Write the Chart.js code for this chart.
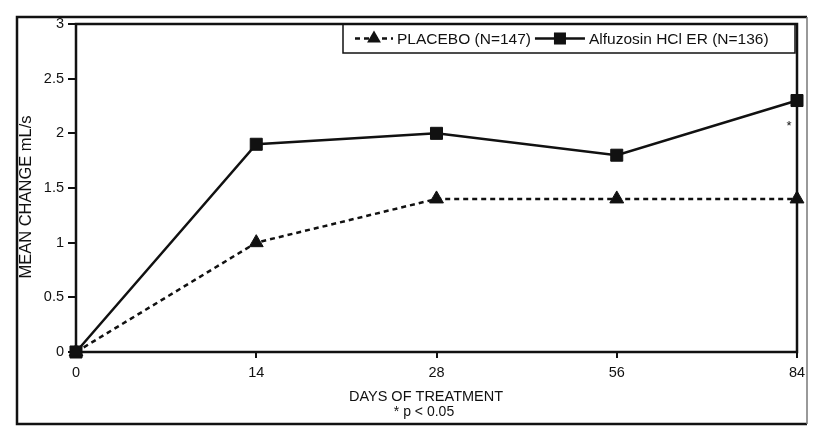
<!DOCTYPE html>
<html>
<head>
<meta charset="utf-8">
<script src="https://cdn.jsdelivr.net/npm/chart.js@4.4.1/dist/chart.umd.min.js"></script>
<style>
  html, body { margin: 0; padding: 0; background: #fff; }
  canvas { display: block; }
</style>
</head>
<body>
<canvas id="flowChart" width="817" height="427"></canvas>
<script>
// DATA
const days = ['0', '14', '28', '56', '84'];
const placebo = [0, 1.0, 1.4, 1.4, 1.4];
const alfuzosin = [0, 1.9, 2.0, 1.8, 2.3];
const yTicks = [0, 0.5, 1, 1.5, 2, 2.5, 3];
const seriesLabels = ['PLACEBO (N=147)', 'Alfuzosin HCl ER (N=136)'];
const significantDay = '84'; // point flagged with * (p < 0.05)

const FONT = '"Liberation Sans", Arial, sans-serif';
const INK = '#111';

// Outer frame, plot box, legend, asterisk and axis captions
const figurePlugin = {
  id: 'figure',
  beforeDraw(chart) {
    const ctx = chart.ctx;
    ctx.save();
    ctx.fillStyle = '#fff';
    ctx.fillRect(0, 0, chart.width, chart.height);
    ctx.strokeStyle = INK;
    ctx.lineWidth = 2.5;
    ctx.beginPath();
    ctx.moveTo(807, 17);
    ctx.lineTo(17, 17);
    ctx.lineTo(17, 424);
    ctx.lineTo(807, 424);
    ctx.stroke();
    // right edge of the frame is lighter in the original
    ctx.strokeStyle = '#777';
    ctx.lineWidth = 1.5;
    ctx.beginPath();
    ctx.moveTo(807, 17);
    ctx.lineTo(807, 424);
    ctx.stroke();
    ctx.restore();
  },
  beforeDatasetsDraw(chart) {
    const { ctx, chartArea: a } = chart;
    ctx.save();
    ctx.strokeStyle = INK;
    ctx.lineWidth = 2.5;
    ctx.strokeRect(a.left, a.top, a.right - a.left, a.bottom - a.top);
    ctx.restore();
  },
  afterDraw(chart) {
    const { ctx, chartArea: a, scales } = chart;
    const drawPoint = Chart.helpers.drawPoint;
    ctx.save();

    // legend box
    const boxLeft = a.left + 267, boxTop = a.top, boxBottom = a.top + 29, boxRight = a.right - 2;
    ctx.strokeStyle = INK;
    ctx.lineWidth = 1.5;
    ctx.strokeRect(boxLeft, boxTop, boxRight - boxLeft, boxBottom - boxTop);

    ctx.font = '15.5px ' + FONT;
    ctx.textBaseline = 'middle';
    ctx.textAlign = 'left';
    ctx.fillStyle = INK;
    const cy = (boxTop + boxBottom) / 2;
    const sampleW = [38, 50];
    let x = boxLeft + 12;
    chart.data.datasets.forEach((ds, i) => {
      ctx.save();
      ctx.strokeStyle = ds.borderColor;
      ctx.lineWidth = ds.borderWidth;
      ctx.setLineDash(ds.borderDash || []);
      ctx.beginPath();
      ctx.moveTo(x, cy);
      ctx.lineTo(x + sampleW[i], cy);
      ctx.stroke();
      ctx.setLineDash([]);
      ctx.fillStyle = ds.pointBackgroundColor;
      drawPoint(ctx, { pointStyle: ds.pointStyle, radius: ds.pointRadius, borderWidth: 0, rotation: 0 }, x + sampleW[i] / 2, cy);
      ctx.restore();
      x += sampleW[i] + 4;
      ctx.fillText(seriesLabels[i], x, cy + 1);
      x += ctx.measureText(seriesLabels[i]).width + 4;
    });

    // significance asterisk under the day-84 square
    const px = scales.x.getPixelForValue(days.indexOf(significantDay));
    const py = scales.y.getPixelForValue(alfuzosin[days.indexOf(significantDay)]);
    ctx.font = '13px ' + FONT;
    ctx.textAlign = 'center';
    ctx.textBaseline = 'top';
    ctx.fillText('*', px - 8, py + 19);

    // y axis caption
    ctx.save();
    ctx.translate(26, 197);
    ctx.rotate(-Math.PI / 2);
    ctx.font = '16.5px ' + FONT;
    ctx.textBaseline = 'middle';
    ctx.fillText('MEAN CHANGE mL/s', 0, 0);
    ctx.restore();

    // x axis caption and footnote
    ctx.font = '14.5px ' + FONT;
    ctx.textBaseline = 'middle';
    ctx.fillText('DAYS OF TREATMENT', 426, 397);
    ctx.font = '14px ' + FONT;
    ctx.fillText('* p < 0.05', 424, 412);
    ctx.restore();
  }
};

new Chart(document.getElementById('flowChart').getContext('2d'), {
  type: 'line',
  data: {
    labels: days,
    datasets: [
      {
        label: seriesLabels[0],
        data: placebo,
        borderColor: INK,
        borderWidth: 2.5,
        borderDash: [5, 4],
        pointStyle: 'triangle',
        pointRadius: 8,
        pointBackgroundColor: INK,
        pointBorderColor: INK,
        pointBorderWidth: 1,
        tension: 0,
        clip: false
      },
      {
        label: seriesLabels[1],
        data: alfuzosin,
        borderColor: INK,
        borderWidth: 2.5,
        pointStyle: 'rect',
        pointRadius: 8.5,
        pointBackgroundColor: INK,
        pointBorderColor: INK,
        pointBorderWidth: 1,
        tension: 0,
        clip: false
      }
    ]
  },
  options: {
    responsive: false,
    animation: false,
    devicePixelRatio: 1,
    layout: { padding: { left: 0, top: 24, right: 20, bottom: 0 } },
    plugins: {
      legend: { display: false },
      tooltip: { enabled: false }
    },
    scales: {
      x: {
        type: 'category',
        offset: false,
        afterFit(scale) { scale.height = 75; },
        grid: { drawOnChartArea: false, drawTicks: true, tickLength: 6, color: INK, lineWidth: 2 },
        border: { display: false },
        ticks: { color: INK, font: { family: FONT, size: 14.5 }, padding: 6, maxRotation: 0, autoSkip: false }
      },
      y: {
        min: 0,
        max: 3,
        afterFit(scale) { scale.width = 76; },
        afterBuildTicks(scale) { scale.ticks = yTicks.map(v => ({ value: v })); },
        grid: { drawOnChartArea: false, drawTicks: true, tickLength: 8, color: INK, lineWidth: 2 },
        border: { display: false },
        ticks: {
          color: INK,
          font: { family: FONT, size: 14.5 },
          padding: 4,
          callback: v => String(v)
        }
      }
    }
  },
  plugins: [figurePlugin]
});
</script>
</body>
</html>
